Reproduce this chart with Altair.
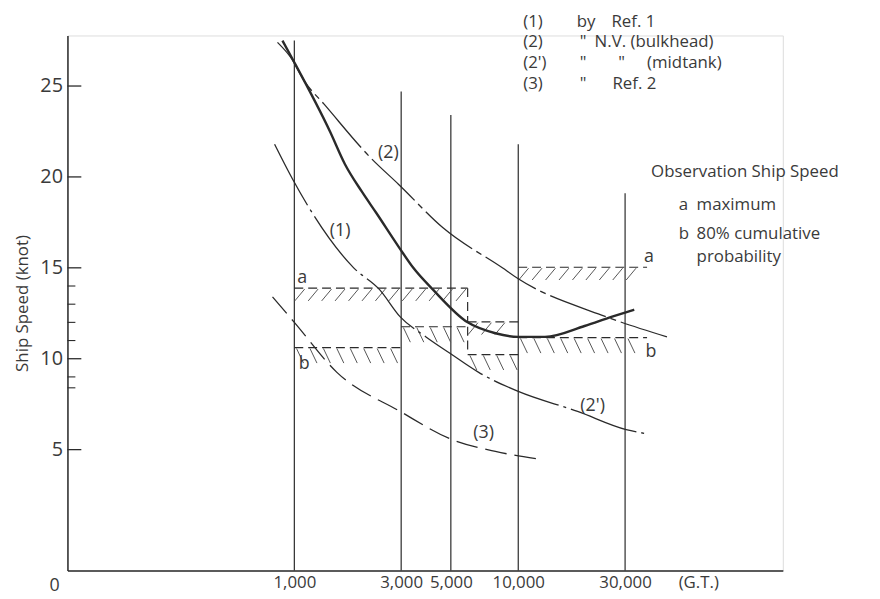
import altair as alt
import pandas as pd
import numpy as np

W, H = 722, 540
XDOM = [97, 151900]
YDOM = [-1.65, 27.78]
FONT = "Open Sans"
INK = "#2a2a2a"
TXT = "#3a3a3a"

# ---- data ----
gt_lines = [1000, 3000, 5000, 10000, 30000]
gt_line_tops = [27.5, 24.7, 23.4, 21.8, 19.1]

c1_gt = [885, 980, 1443, 1683, 2000, 2328, 2944, 3398, 4161, 5943, 7907, 10000, 13160, 19770, 26050, 32960]
c1_kn = [27.5, 26.5, 22.5, 20.7, 19.2, 18.0, 16.1, 15.0, 13.8, 12.0, 11.4, 11.2, 11.2, 11.8, 12.3, 12.7]
c2_gt = [841, 960, 1119, 1358, 2213, 2917, 4613, 8492, 10000, 23550, 46150]
c2_kn = [27.4, 26.6, 25.2, 24.0, 21.0, 19.6, 17.2, 15.0, 14.4, 12.4, 11.2]
c2p_gt = [816, 980, 1841, 2403, 2972, 3873, 4954, 6657, 10000, 18410, 30340, 36480]
c2p_kn = [21.8, 19.9, 15.0, 13.8, 12.3, 11.2, 10.3, 9.25, 8.2, 7.1, 6.1, 5.9]
c3_gt = [799, 1000, 1549, 2972, 4954, 7907, 12130]
c3_kn = [13.4, 12.0, 9.25, 7.1, 5.6, 4.9, 4.5]

# observation steps: a = maximum, b = 80% cumulative probability
a_from = [1000, 5943, 10000]
a_to = [5943, 10000, 37600]
a_kn = [13.88, 12.03, 15.03]
b_from = [1000, 3000, 5943, 10000]
b_to = [3000, 5943, 10000, 37600]
b_kn = [10.61, 11.76, 10.23, 11.16]

y_major = [5, 10, 15, 20, 25]
y_minor = [8.4, 9, 11, 12, 13, 14]

x_tick_values = [1000, 3000, 5000, 10000, 30000]

# ---- encodings ----
xscale = alt.Scale(type="log", domain=XDOM, nice=False)
yscale = alt.Scale(type="linear", domain=YDOM, nice=False, zero=False)
xaxis = alt.Axis(values=x_tick_values, format=",d", ticks=False, grid=False,
                 domainColor=INK, domainWidth=1.5, labelFont=FONT, labelFontSize=17,
                 labelColor=TXT, labelPadding=4, title=None, labelFlush=False,
                 labelOverlap=False, labelBound=False)
yaxis = alt.Axis(values=y_major, ticks=False, grid=False, domainColor=INK, domainWidth=1.5,
                 labelFont=FONT, labelFontSize=20, labelColor=TXT, labelPadding=5,
                 title="Ship   Speed   (knot)", titleFont=FONT, titleFontSize=17,
                 titleFontWeight="normal", titleColor=TXT, titlePadding=8,
                 labelFlush=False, labelOverlap=False)


def X(f):
    return alt.X(f, type="quantitative", scale=xscale, axis=xaxis)


def Y(f):
    return alt.Y(f, type="quantitative", scale=yscale, axis=yaxis)


# vertical tonnage lines
dv = pd.DataFrame({"gt": gt_lines, "top": gt_line_tops, "base": YDOM[0]})
verticals = alt.Chart(dv).mark_rule(color=INK, strokeWidth=1.2).encode(
    x=X("gt"), y=Y("base"), y2="top")

# curves
def curve(gx, ky, dash, width):
    d = pd.DataFrame({"gt": gx, "kn": ky, "o": range(len(gx))})
    kw = dict(color=INK, strokeWidth=width, interpolate="monotone")
    if dash:
        kw["strokeDash"] = dash
    return alt.Chart(d).mark_line(**kw).encode(x=X("gt"), y=Y("kn"), order="o:Q")

l1 = curve(c1_gt, c1_kn, None, 2.4)
l2 = curve(c2_gt, c2_kn, [60, 5, 6, 5], 1.3)
l2p = curve(c2p_gt, c2p_kn, [70, 5, 3, 5], 1.3)
l3 = curve(c3_gt, c3_kn, [22, 8], 1.3)

# dashed step segments
seg = []
for x0, x1, k in zip(a_from, a_to, a_kn):
    seg.append((x0, x1, k, k))
for x0, x1, k in zip(b_from, b_to, b_kn):
    seg.append((x0, x1, k, k))
seg.append((a_to[0], a_to[0], a_kn[0], a_kn[1]))
seg.append((b_to[1], b_to[1], b_kn[1], b_kn[2]))
dseg = pd.DataFrame(seg, columns=["x0", "x1", "y0", "y1"])
steps = alt.Chart(dseg).mark_rule(color=INK, strokeWidth=1.2, strokeDash=[9, 5]).encode(
    x=X("x0"), x2="x1", y=Y("y0"), y2="y1")

# hatching below the steps
hat = []
for x0, x1, k in zip(a_from, a_to, a_kn):
    for lg in np.arange(np.log10(x0) + 0.046, np.log10(x1), 0.06):
        hat.append((10 ** lg, 10 ** (lg - 0.044), k - 0.05, k - 0.7))
for x0, x1, k in zip(b_from, b_to, b_kn):
    for lg in np.arange(np.log10(x0) + 0.01, np.log10(x1) - 0.03, 0.06):
        hat.append((10 ** lg, 10 ** (lg + 0.031), k - 0.05, k - 0.85))
dh = pd.DataFrame(hat, columns=["x0", "x1", "y0", "y1"])
hatch = alt.Chart(dh).mark_rule(color="#555", strokeWidth=1).encode(
    x=X("x0"), x2="x1", y=Y("y0"), y2="y1")

# inward y ticks
ticks_major = alt.Chart(pd.DataFrame({"kn": y_major})).mark_rule(color=INK, strokeWidth=1.3).encode(
    y=Y("kn"), x=alt.value(0), x2=alt.value(14))
ticks_minor = alt.Chart(pd.DataFrame({"kn": y_minor})).mark_rule(color=INK, strokeWidth=1.1).encode(
    y=Y("kn"), x=alt.value(0), x2=alt.value(8))

# curve and step labels (data coords)
lab = pd.DataFrame({
    "t": ["(2)", "(1)", "(2')", "(3)", "a", "b", "a", "b"],
    "gt": [2630, 1600, 21480, 7000, 1085, 1107, 38370, 39170],
    "kn": [21.3, 17.0, 7.4, 5.9, 14.45, 9.7, 15.6, 10.35],
})
labels = alt.Chart(lab).mark_text(font=FONT, fontSize=18, color=TXT, align="center",
                                  baseline="middle").encode(x=X("gt"), y=Y("kn"), text="t")

# legend block (page layout positions)
leg = pd.DataFrame({
    "t": ["(1)", "by", "Ref. 1",
          "(2)", "\"", "N.V. (bulkhead)",
          "(2')", "\"", "\"", "(midtank)",
          "(3)", "\"", "Ref. 2",
          "Observation Ship Speed", "a", "maximum", "b", "80% cumulative", "probability"],
    "px": [528, 582, 617,
           528, 585, 600,
           528, 585, 624, 653,
           528, 585, 618,
           657, 685, 703, 685, 703, 703],
    "py": [19, 19, 19,
           40, 40, 40,
           61, 61, 61, 61,
           82, 82, 82,
           171, 204, 204, 233, 233, 257],
})
leg["px"] = leg["px"] - 68
leg["py"] = leg["py"] - 33
legend = alt.Chart(leg).mark_text(font=FONT, fontSize=17, color=TXT, align="left",
                                  baseline="middle").encode(
    x=alt.X("px:Q", scale=None), y=alt.Y("py:Q", scale=None), text="t")

origin = alt.Chart(pd.DataFrame({"t": ["0"]})).mark_text(
    font=FONT, fontSize=18, color=TXT, align="center", baseline="middle").encode(
    x=alt.value(-13), y=alt.value(H + 16), text="t")

gt_unit = alt.Chart(pd.DataFrame({"t": ["(G.T.)"], "gt": [64000]})).mark_text(
    font=FONT, fontSize=17, color=TXT, align="center", baseline="middle").encode(
    x=X("gt"), y=alt.value(H + 13), text="t")

chart = alt.layer(verticals, hatch, steps, l1, l2, l2p, l3, ticks_major, ticks_minor,
                  labels, legend, origin, gt_unit).properties(
    width=W, height=H,
    autosize=alt.AutoSizeParams(type="none"),
    padding={"left": 60, "top": 25, "right": 90, "bottom": 26},
).configure_view(stroke=None).configure(background="white")

chart.save("out.html", embed_options={"renderer": "svg", "actions": False})
